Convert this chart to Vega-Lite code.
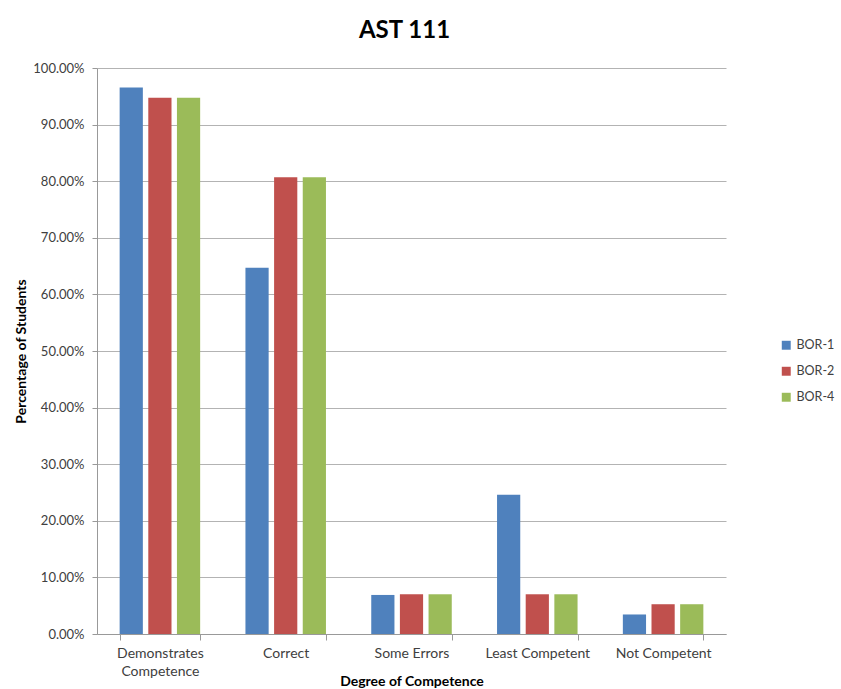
{
  "$schema": "https://vega.github.io/schema/vega-lite/v6.json",
  "width": 629,
  "height": 566,
  "autosize": "none",
  "padding": {"left": 97, "top": 68, "right": 115, "bottom": 55},
  "background": "white",
  "title": {"text": "AST 111", "fontSize": 24, "font": "Lato", "fontWeight": "bold", "color": "#000000", "offset": 19, "anchor": "middle", "dx": -7},
  "data": {"values": [
    {"degree": "Demonstrates Competence", "series": "BOR-1", "pct": 0.9655},
    {"degree": "Demonstrates Competence", "series": "BOR-2", "pct": 0.9474},
    {"degree": "Demonstrates Competence", "series": "BOR-4", "pct": 0.9474},
    {"degree": "Correct", "series": "BOR-1", "pct": 0.6470},
    {"degree": "Correct", "series": "BOR-2", "pct": 0.8070},
    {"degree": "Correct", "series": "BOR-4", "pct": 0.8070},
    {"degree": "Some Errors", "series": "BOR-1", "pct": 0.0690},
    {"degree": "Some Errors", "series": "BOR-2", "pct": 0.0702},
    {"degree": "Some Errors", "series": "BOR-4", "pct": 0.0702},
    {"degree": "Least Competent", "series": "BOR-1", "pct": 0.2460},
    {"degree": "Least Competent", "series": "BOR-2", "pct": 0.0702},
    {"degree": "Least Competent", "series": "BOR-4", "pct": 0.0702},
    {"degree": "Not Competent", "series": "BOR-1", "pct": 0.0345},
    {"degree": "Not Competent", "series": "BOR-2", "pct": 0.0526},
    {"degree": "Not Competent", "series": "BOR-4", "pct": 0.0526}
  ]},
  "mark": {"type": "bar"},
  "encoding": {
    "x": {
      "field": "degree", "type": "nominal", "sort": null,
      "scale": {"paddingInner": 0.36, "paddingOuter": 0.18},
      "axis": {
        "title": "Degree of Competence", "titleFont": "Lato", "titleFontSize": 14, "titleFontWeight": "bold", "titleColor": "#000000",
        "titleY": 47, "titleBaseline": "middle",
        "labelAngle": 0, "labelFont": "Lato", "labelFontSize": 14, "labelColor": "#404040", "labelPadding": 6, "labelLineHeight": 18,
        "labelExpr": "datum.label == 'Demonstrates Competence' ? ['Demonstrates', 'Competence'] : datum.label",
        "tickBand": "extent", "tickSize": 6, "tickColor": "#999999", "domainColor": "#999999", "grid": false
      }
    },
    "xOffset": {"field": "series", "type": "nominal", "scale": {"paddingInner": 0.19, "paddingOuter": 0}},
    "y": {
      "field": "pct", "type": "quantitative",
      "scale": {"domain": [0, 1], "nice": false},
      "axis": {
        "title": "Percentage of Students", "titleFont": "Lato", "titleFontSize": 14, "titleFontWeight": "bold", "titleColor": "#000000", "titlePadding": 4,
        "format": ".2%", "values": [0, 0.1, 0.2, 0.3, 0.4, 0.5, 0.6, 0.7, 0.8, 0.9, 1.0],
        "labelFont": "Lato", "labelFontSize": 13, "labelColor": "#404040", "labelPadding": 8,
        "tickSize": 5, "tickColor": "#999999", "domainColor": "#999999",
        "grid": true, "gridColor": "#b3b3b3", "gridWidth": 1
      }
    },
    "color": {
      "field": "series", "type": "nominal",
      "scale": {"domain": ["BOR-1", "BOR-2", "BOR-4"], "range": ["#4F81BD", "#C0504D", "#9BBB59"]},
      "legend": {
        "title": null, "orient": "none", "legendX": 683, "legendY": 271,
        "symbolType": "square", "symbolSize": 80, "symbolStrokeWidth": 0,
        "labelFont": "Lato", "labelFontSize": 12.5, "labelColor": "#404040", "rowPadding": 13
      }
    }
  },
  "config": {"view": {"stroke": null}}
}
